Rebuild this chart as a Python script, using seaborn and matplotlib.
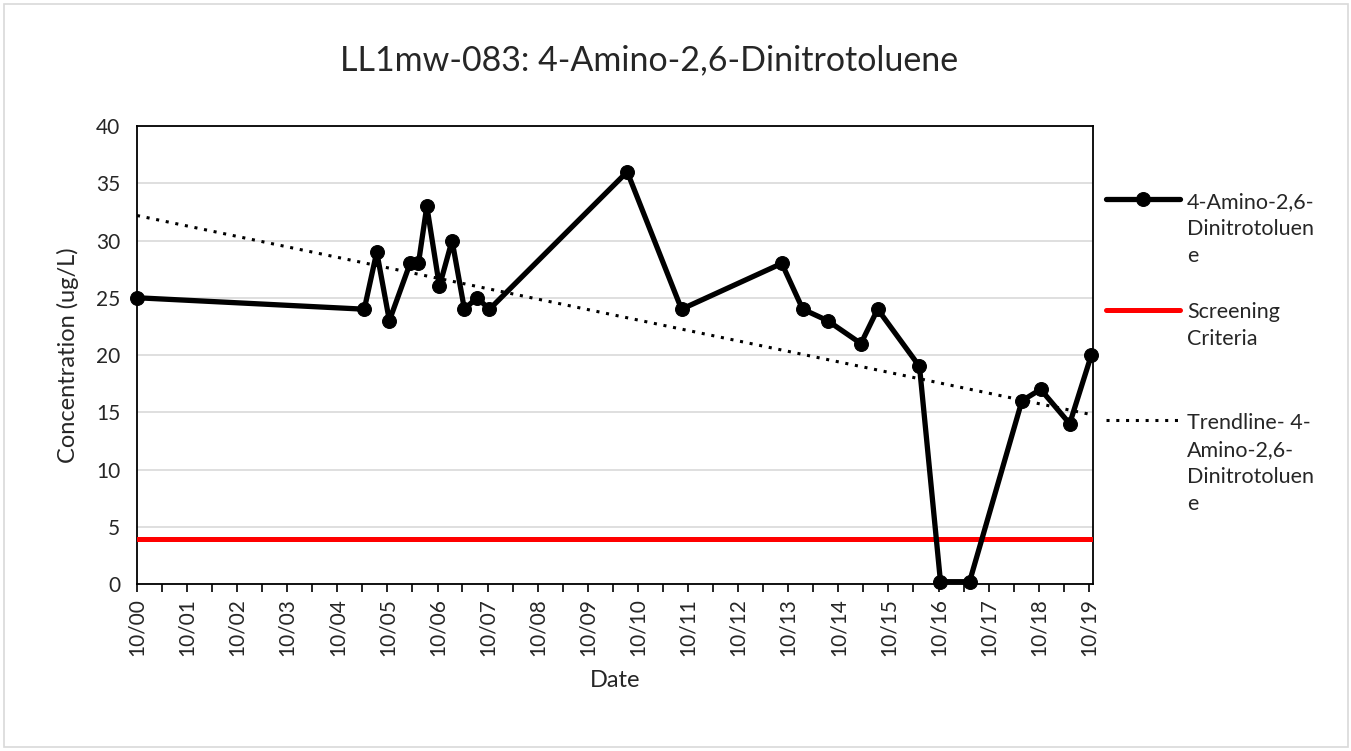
import numpy as np
import pandas as pd
import seaborn as sns
import matplotlib.pyplot as plt
import matplotlib.dates as mdates
from matplotlib.patches import Rectangle

# sample dates and results
sample_dates = ["2000-10-01", "2005-04-15", "2005-07-15", "2005-10-15", "2006-03-15",
                "2006-05-15", "2006-07-15", "2006-10-15", "2007-01-15", "2007-04-15",
                "2007-07-15", "2007-10-15", "2010-07-15", "2011-08-15", "2013-08-15",
                "2014-01-15", "2014-07-15", "2015-03-15", "2015-07-15", "2016-05-15",
                "2016-10-15", "2017-05-15", "2018-06-01", "2018-10-15", "2019-05-15",
                "2019-10-20"]
concentration = [25, 24, 29, 23, 28, 28, 33, 26, 30, 24, 25, 24, 36, 24, 28,
                 24, 23, 21, 24, 19, 0.2, 0.2, 16, 17, 14, 20]
screening_value = 3.9
y_ticks = [0, 5, 10, 15, 20, 25, 30, 35, 40]

series_label = "4-Amino-2,6-\nDinitrotoluen\ne"
screen_label = "Screening\nCriteria\n "   # blank line keeps excel's even entry spacing
trend_label = "Trendline- 4-\nAmino-2,6-\nDinitrotoluen\ne"
title_text = "LL1mw-083: 4-Amino-2,6-Dinitrotoluene"


def main():
    sns.set_style("white")
    plt.rcParams['font.family'] = ['Lato', 'DejaVu Sans']

    df = pd.DataFrame({"Date": pd.to_datetime(sample_dates), "Conc": concentration})

    fig = plt.figure(figsize=(13.51, 7.51), dpi=100)
    ax = fig.add_axes([137 / 1351, 1 - 584 / 751, (1093 - 137) / 1351, (584 - 126) / 751])

    # light chart-area border like excel
    fig.patches.append(Rectangle((4 / 1351, 4 / 751), 1344 / 1351, 743 / 751,
                                 transform=fig.transFigure, fill=False,
                                 edgecolor='#d9d9d9', linewidth=1.2))

    # gridlines first so the data sits on top
    ax.set_axisbelow(True)
    ax.yaxis.grid(True, color='#d9d9d9', linewidth=1.2)

    sns.lineplot(data=df, x="Date", y="Conc", ax=ax, color='black', linewidth=3.8,
                 marker='o', markersize=10, markeredgecolor='black',
                 label=series_label, clip_on=False, zorder=4)

    ax.axhline(screening_value, color='#ff0000', linewidth=3.6, label=screen_label, zorder=3)

    # linear trendline over date numbers, same as excel does
    xnum = mdates.date2num(df["Date"])
    slope, intercept = np.polyfit(xnum, df["Conc"], 1)
    trend_x = np.array([xnum.min(), xnum.max()])
    ax.plot(mdates.num2date(trend_x), slope * trend_x + intercept, color='black',
            linewidth=2.2, linestyle=(0, (1, 2.2)), label=trend_label, zorder=3)

    ax.set_xlim(pd.Timestamp("2000-10-01"), pd.Timestamp("2019-11-01"))
    ax.set_ylim(0, 40)
    ax.set_yticks(y_ticks)

    ax.xaxis.set_major_locator(mdates.MonthLocator(bymonth=[10], bymonthday=1))
    ax.xaxis.set_minor_locator(mdates.MonthLocator(bymonth=[4], bymonthday=1))
    ax.xaxis.set_major_formatter(mdates.DateFormatter('%m/%y'))
    plt.setp(ax.get_xticklabels(), rotation=90)
    ax.tick_params(axis='x', which='both', direction='out', length=6, width=1.2,
                   color='black', bottom=True, labelsize=15, pad=4)
    ax.tick_params(axis='y', length=0, labelsize=15, pad=12)

    for s in ax.spines.values():
        s.set_color('black')
        s.set_linewidth(1.3)

    ax.set_xlabel("Date", fontsize=17, labelpad=10)
    ax.set_ylabel("Concentration (ug/L)", fontsize=17, labelpad=12)

    fig.text(649 / 1351, 1 - 60 / 751, title_text, fontsize=24.5, ha='center', va='center')

    leg = ax.legend(loc='upper left', bbox_to_anchor=(1.005, 0.875), frameon=False,
                    fontsize=15.5, handlelength=3.4, handletextpad=0.35,
                    labelspacing=1.67, borderaxespad=0)
    for t in leg.get_texts():
        t.set_linespacing(1.45)
    # put handles next to the first line of each wrapped label
    for col in leg._legend_handle_box.get_children():
        for row in col.get_children():
            row.align = 'top'

    fig.savefig("out.png", dpi=100)
    plt.close()


if __name__ == '__main__':
    main()
